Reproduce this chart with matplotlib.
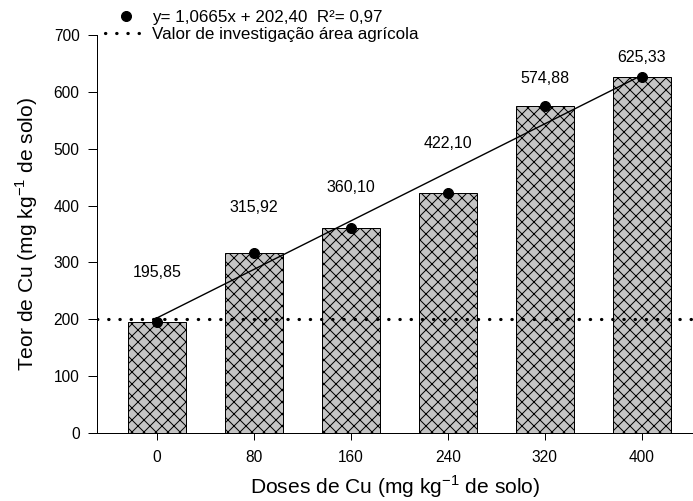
import numpy as np
import matplotlib.pyplot as plt
from matplotlib.lines import Line2D

plt.rcParams['font.family'] = ['Liberation Sans', 'DejaVu Sans']
plt.rcParams['hatch.linewidth'] = 1.0

# Data
doses = [0, 80, 160, 240, 320, 400]
teor = [195.85, 315.92, 360.10, 422.10, 574.88, 625.33]
labels = ['195,85', '315,92', '360,10', '422,10', '574,88', '625,33']
label_pos = [283, 397, 431, 510, 624, 661]
slope, intercept = 1.0665, 202.40
limite = 200

x = np.arange(len(doses))

# 72 dpi so hatch spacing matches the original
fig = plt.figure(figsize=(693/72, 501/72), dpi=72)
ax = fig.add_axes([96.5/693, 68/501, 1 - 96.5/693, 398/501])

ax.bar(x, teor, width=0.6, color='#c4c4c4', edgecolor='black',
       linewidth=1.0, hatch='xx', zorder=2)

for xi, lab, yp in zip(x, labels, label_pos):
    ax.text(xi, yp, lab, ha='center', va='center', fontsize=16)

# fitted line over the dose range
fit_x = np.array([x[0], x[-1]])
fit_y = slope * np.array([doses[0], doses[-1]]) + intercept
ax.plot(fit_x, fit_y, color='black', lw=1.4, zorder=3)
ax.plot(x, teor, 'o', color='black', markersize=10, zorder=4)

ax.axhline(limite, color='black', lw=3.2, linestyle=(0, (0.1, 3.4)),
           dash_capstyle='round', zorder=5)

ax.set_xlim(-0.624, 5.53)
ax.set_ylim(0, 700)
ax.set_xticks(x)
ax.set_xticklabels([str(d) for d in doses])
ax.set_yticks(range(0, 701, 100))
ax.tick_params(direction='out', width=1, labelsize=15.5)
ax.tick_params(axis='y', length=9, pad=8)
ax.tick_params(axis='x', length=7, pad=10)
for s in ['top', 'right']:
    ax.spines[s].set_visible(False)
for s in ['left', 'bottom']:
    ax.spines[s].set_linewidth(1.0)

ax.set_ylabel('Teor de Cu (mg kg$^{\\mathregular{-1}}$ de solo)', fontsize=21, labelpad=14)
ax.set_xlabel('Doses de Cu (mg kg$^{\\mathregular{-1}}$ de solo)', fontsize=21, labelpad=8)

handles = [
    Line2D([], [], marker='o', color='black', linestyle='none', markersize=10),
    Line2D([], [], color='black', lw=3.2, linestyle=(0, (0.1, 3.4)),
           dash_capstyle='round'),
]
fig.legend(handles, ['y= 1,0665x + 202,40  R²= 0,97',
                     'Valor de investigação área agrícola'],
           loc='upper left', bbox_to_anchor=(95/693, 1.0), frameon=False,
           fontsize=17, handlelength=2.4, handletextpad=0.35,
           labelspacing=0.1, borderpad=0.1)

fig.savefig('out.png', dpi=72)
